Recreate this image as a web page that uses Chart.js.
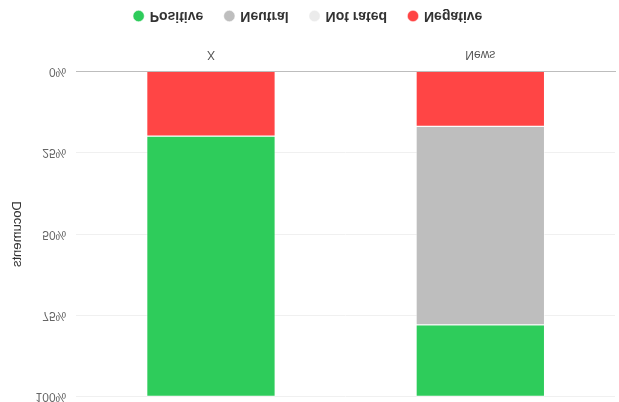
<!DOCTYPE html>
<html>
<head>
<meta charset="utf-8">
<script src="https://cdn.jsdelivr.net/npm/chart.js@4"></script>
<style>
html,body{margin:0;padding:0;background:#fff;}
#wrap{position:relative;width:619px;height:402px;overflow:hidden;}
#c{position:absolute;left:0;top:0;transform:scaleY(-1);}
</style>
</head>
<body>
<div id="wrap"><canvas id="c" width="619" height="414"></canvas></div>
<script>
const categories = ["X", "News"];
const seriesNames = ["Positive", "Neutral", "Not rated", "Negative"];
const positive = [80, 22];
const neutral = [0, 61];
const notRated = [0, 0];
const negative = [20, 17];
const yTicks = [0, 25, 50, 75, 100];
const colors = ["#2ECC5B", "#BEBEBE", "#EBEBEB", "#FF4545"];

const values = [positive, neutral, notRated, negative];
// stack bottom-up: Negative first
const order = [3, 2, 1, 0];
const datasets = order.map(i => ({
  label: seriesNames[i],
  data: values[i],
  backgroundColor: colors[i],
  borderColor: 'rgba(255,255,255,0.5)',
  borderWidth: 1,
  barPercentage: 0.6,
  categoryPercentage: 0.8
}));

new Chart(document.getElementById('c'), {
  type: 'bar',
  data: { labels: categories, datasets },
  options: {
    responsive: false,
    animation: false,
    layout: { padding: { top: 0, right: 4, bottom: -1, left: 2 } },
    plugins: {
      legend: {
        position: 'bottom',
        reverse: true,
        labels: {
          usePointStyle: true,
          pointStyle: 'circle',
          boxWidth: 8, boxHeight: 8,
          color: '#333',
          font: { size: 14, weight: 'bold' },
          padding: 22
        }
      },
      tooltip: { enabled: false }
    },
    scales: {
      x: {
        stacked: true,
        grid: { display: false },
        border: { color: '#bdbdbd' },
        ticks: { color: '#555', font: { size: 12 }, padding: 2 }
      },
      y: {
        stacked: true,
        min: 0, max: 100,
        afterBuildTicks: s => { s.ticks = yTicks.map(v => ({ value: v })); },
        ticks: { color: '#666', font: { size: 12 }, padding: 10, callback: v => v + '%' },
        grid: { color: '#f0f0f0', drawTicks: false },
        border: { display: false },
        title: { display: true, text: 'Documents', color: '#333', font: { size: 13 }, padding: { top: 8, bottom: 0 } }
      }
    }
  }
});
</script>
</body>
</html>
